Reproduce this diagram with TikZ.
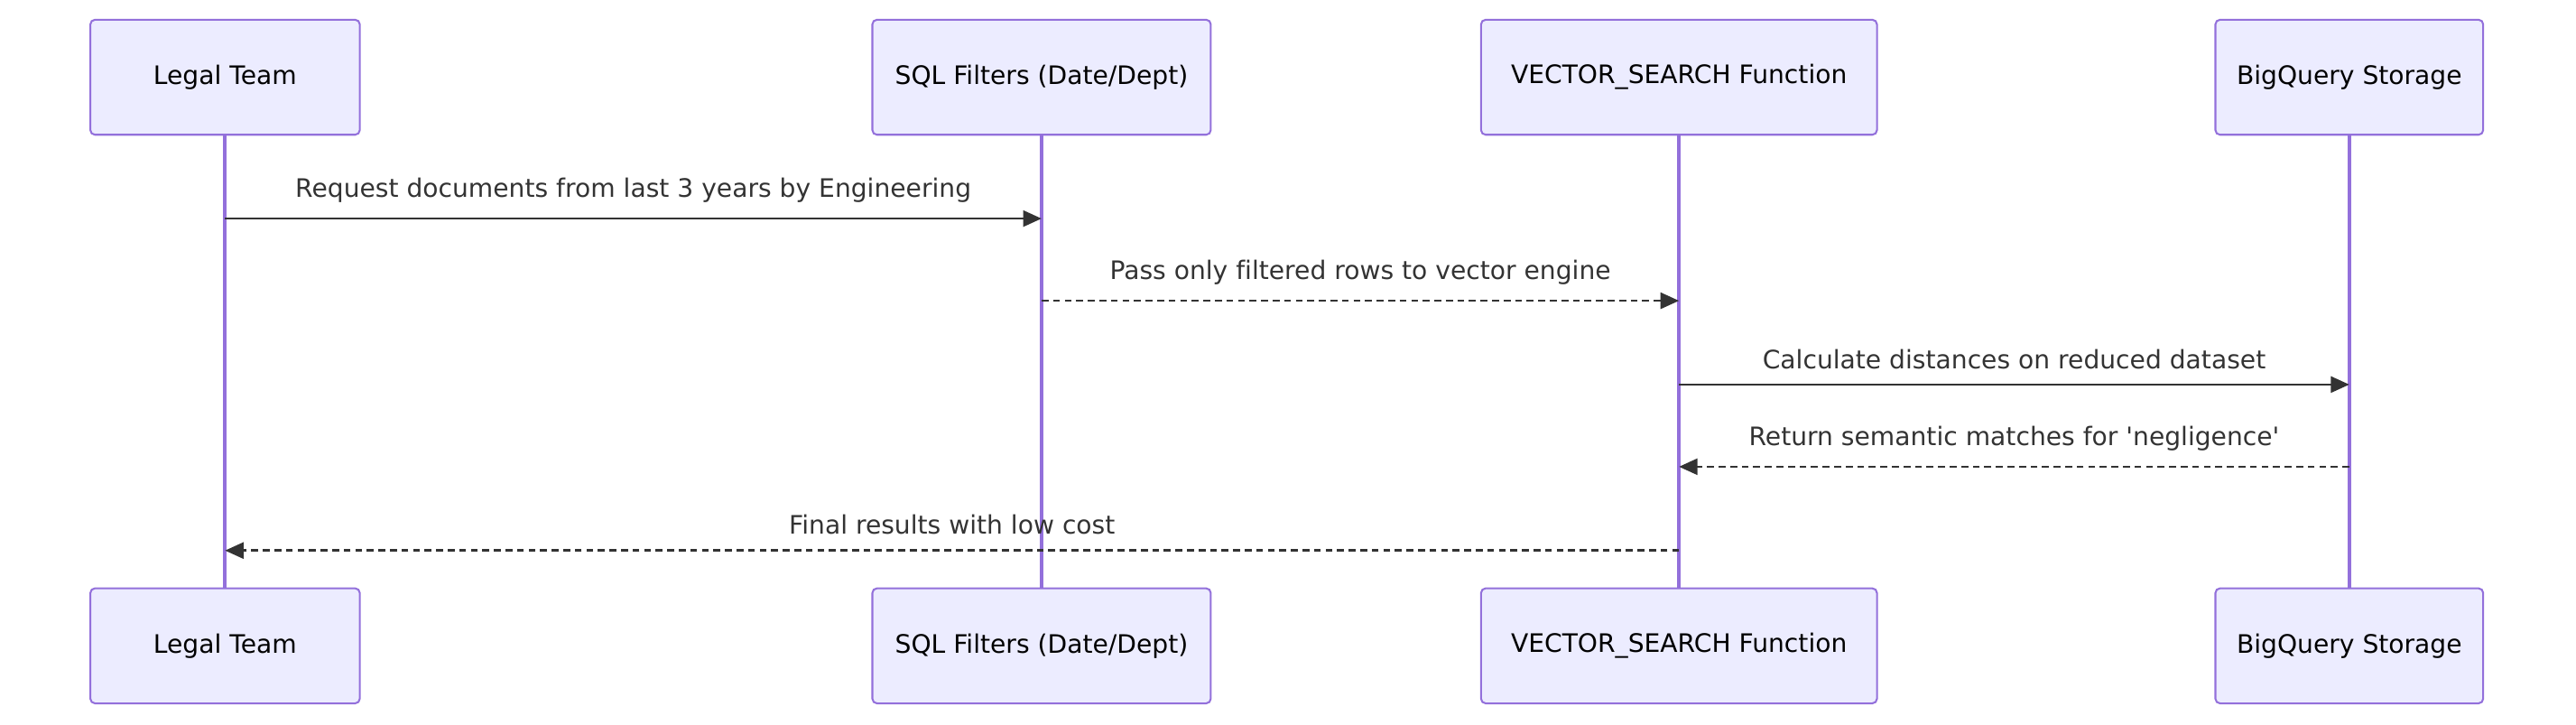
\documentclass[tikz,border=0pt]{standalone}
\usepackage{fontspec}
\setmainfont[Ligatures=NoCommon, Mapping=]{DejaVu Sans}
\usetikzlibrary{arrows.meta}
\definecolor{actfill}{HTML}{ECECFF}
\definecolor{actline}{HTML}{9370DB}
\definecolor{msgline}{HTML}{333333}
\tikzset{
  actor/.style = {fill = actfill, draw = actline, line width = 0.8pt, rounded corners = 2pt, minimum height = 70*0.025cm, font = \fontsize{11}{13}\selectfont},
  life/.style = {draw = actline, line width = 1.6pt},
  msg/.style = {draw = msgline, line width = 1pt, -{Triangle[length = 8pt, width = 7pt]}},
  reply/.style = {msg, dash pattern = on 3pt off 2pt},
  lbl/.style = {font = \fontsize{11}{13}\selectfont, text = msgline, above = 3pt}
}
\begin{document}
\begin{tikzpicture}[x = 0.025cm, y = -0.025cm]
        \useasboundingbox (0, 0) rectangle (1568, 441);

        \node [actor, minimum width = 164*0.025cm] (a1) at (137, 47) {Legal Team};
        \node [actor, minimum width = 206*0.025cm] (b1) at (634, 47) {SQL Filters (Date/Dept)};
        \node [actor, minimum width = 241*0.025cm] (c1) at (1022, 47) {VECTOR\_SEARCH Function};
        \node [actor, minimum width = 163*0.025cm] (d1) at (1430, 47) {BigQuery Storage};

        \node [actor, minimum width = 164*0.025cm] (a2) at (137, 393) {Legal Team};
        \node [actor, minimum width = 206*0.025cm] (b2) at (634, 393) {SQL Filters (Date/Dept)};
        \node [actor, minimum width = 241*0.025cm] (c2) at (1022, 393) {VECTOR\_SEARCH Function};
        \node [actor, minimum width = 163*0.025cm] (d2) at (1430, 393) {BigQuery Storage};

        % Lifelines
        \draw [life] (a1) -- (a2);
        \draw [life] (b1) -- (b2);
        \draw [life] (c1) -- (c2);
        \draw [life] (d1) -- (d2);

        % Messages
        \draw [msg] (a1 |- 0, 133) -- node [lbl] {Request documents from last 3 years by Engineering} (b1 |- 0, 133);
        \draw [reply] (b1 |- 0, 183) -- node [lbl] {Pass only filtered rows to vector engine} (c1 |- 0, 183);
        \draw [msg] (c1 |- 0, 234) -- node [lbl] {Calculate distances on reduced dataset} (d1 |- 0, 234);
        \draw [reply] (d1 |- 0, 284) -- node [lbl] {Return semantic matches for \symbol{"0027}negligence\symbol{"0027}} (c1 |- 0, 284);
        \draw [reply] (c1 |- 0, 335) -- node [lbl] {Final results with low cost} (a1 |- 0, 335);

\end{tikzpicture}
\end{document}
